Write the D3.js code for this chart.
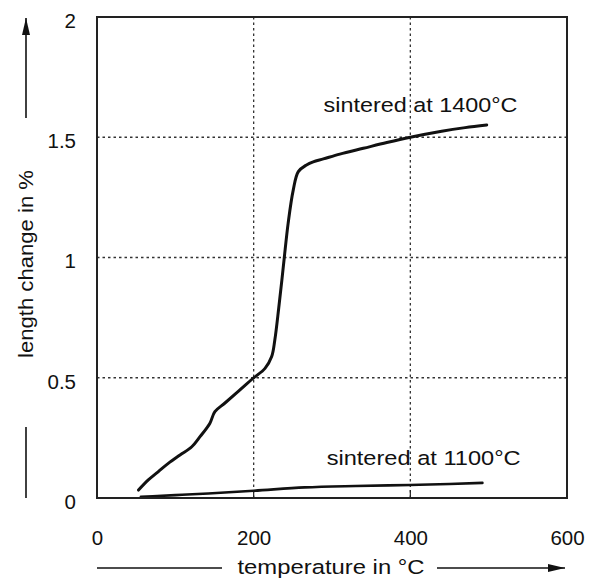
<!DOCTYPE html>
<html>
<head>
<meta charset="utf-8">
<script src="https://cdn.jsdelivr.net/npm/d3@7"></script>
<style>
  html, body { margin: 0; padding: 0; background: #fff; }
  svg { display: block; }
  text { font-family: "Liberation Sans", Arial, Helvetica, sans-serif; fill: #111; }
</style>
</head>
<body>
<svg id="chart" width="595" height="581"></svg>
<script>
// ---- data ----
const xTicks = [0, 200, 400, 600];
const yTicks = [0, 0.5, 1, 1.5, 2];
const xGrid = [200, 400];
const yGrid = [0.5, 1, 1.5];

const series1400Temp = [53, 65.5, 78, 91, 106, 121, 131.5, 144, 150.5, 163, 180, 199.5, 214.5, 223, 227, 232, 236, 239, 244, 250.5, 257, 267.5, 276, 289, 310, 340, 370, 400, 440, 470, 497.5];
const series1400Len  = [0.033, 0.075, 0.109, 0.144, 0.179, 0.213, 0.255, 0.31, 0.359, 0.394, 0.442, 0.498, 0.539, 0.588, 0.657, 0.79, 0.906, 0.997, 1.142, 1.28, 1.357, 1.385, 1.398, 1.41, 1.43, 1.454, 1.478, 1.50, 1.525, 1.54, 1.551];

const series1100Temp = [56, 100, 142, 200, 265, 330, 400, 450, 492];
const series1100Len  = [0.005, 0.012, 0.019, 0.030, 0.044, 0.05, 0.054, 0.058, 0.063];

const labels = [
  { text: "sintered at 1400\u00B0C", x: 413, y: 1.605 },
  { text: "sintered at 1100\u00B0C", x: 417, y: 0.137 }
];

// ---- layout ----
const svg = d3.select("#chart");
const L = 97, R = 567, T = 17, B = 498;
const x = d3.scaleLinear().domain([0, 600]).range([L, R]);
const y = d3.scaleLinear().domain([0, 2]).range([B, T]);
const fs = 20.5;

// grid
svg.append("g").selectAll("line").data(xGrid).join("line")
  .attr("x1", d => x(d)).attr("x2", d => x(d)).attr("y1", T).attr("y2", B)
  .attr("stroke", "#333").attr("stroke-width", 1.3).attr("stroke-dasharray", "2.5,3");
svg.append("g").selectAll("line").data(yGrid).join("line")
  .attr("y1", d => y(d)).attr("y2", d => y(d)).attr("x1", L).attr("x2", R)
  .attr("stroke", "#333").attr("stroke-width", 1.3).attr("stroke-dasharray", "2.5,3");

// small ticks on bottom at grid positions
svg.append("g").selectAll("line").data(xGrid).join("line")
  .attr("x1", d => x(d)).attr("x2", d => x(d)).attr("y1", B - 8).attr("y2", B)
  .attr("stroke", "#222").attr("stroke-width", 1.2);

// curves
const line = d3.line().x(d => x(d[0])).y(d => y(d[1])).curve(d3.curveMonotoneX);
svg.append("path")
  .datum(d3.zip(series1400Temp, series1400Len))
  .attr("d", d3.line().x(d => x(d[0])).y(d => y(d[1])).curve(d3.curveCatmullRom.alpha(0.5)))
  .attr("fill", "none").attr("stroke", "#111").attr("stroke-width", 3)
  .attr("stroke-linejoin", "round").attr("stroke-linecap", "round");
svg.append("path")
  .datum(d3.zip(series1100Temp, series1100Len))
  .attr("d", line)
  .attr("fill", "none").attr("stroke", "#111").attr("stroke-width", 2.6)
  .attr("stroke-linecap", "round");

// frame
svg.append("rect").attr("x", L).attr("y", T).attr("width", R - L).attr("height", B - T)
  .attr("fill", "none").attr("stroke", "#222").attr("stroke-width", 2);

// axes tick labels (axis generators with hidden domain/ticks)
const xAxis = svg.append("g").attr("transform", `translate(0,${B})`)
  .call(d3.axisBottom(x).tickValues(xTicks).tickSize(0).tickPadding(0).tickFormat(d3.format("d")));
xAxis.select(".domain").remove();
xAxis.selectAll("text").attr("font-size", fs).attr("dy", "1em").attr("y", 26)
  .attr("font-family", "Liberation Sans, Arial, sans-serif").attr("fill", "#111");

const yAxis = svg.append("g").attr("transform", `translate(${L},0)`)
  .call(d3.axisLeft(y).tickValues(yTicks).tickSize(0).tickPadding(0).tickFormat(d => d3.format("")(d)));
yAxis.select(".domain").remove();
yAxis.selectAll("text").attr("font-size", fs).attr("x", -21).attr("dy", "0.5em")
  .attr("font-family", "Liberation Sans, Arial, sans-serif").attr("fill", "#111");

// series labels
svg.append("g").selectAll("text").data(labels).join("text")
  .attr("x", d => x(d.x)).attr("y", d => y(d.y))
  .attr("text-anchor", "middle").attr("font-size", fs)
  .attr("textLength", 194).attr("lengthAdjust", "spacingAndGlyphs")
  .text(d => d.text);

// arrow marker
const defs = svg.append("defs");
defs.append("marker").attr("id", "arr").attr("viewBox", "0 0 10 10")
  .attr("preserveAspectRatio", "none")
  .attr("refX", 10).attr("refY", 5).attr("markerWidth", 17).attr("markerHeight", 8)
  .attr("markerUnits", "userSpaceOnUse").attr("orient", "auto")
  .append("path").attr("d", "M0,0 L10,5 L0,10 Z").attr("fill", "#111");

// x title and arrows
svg.append("text").attr("x", 331).attr("y", 574).attr("text-anchor", "middle")
  .attr("font-size", fs).attr("textLength", 187).attr("lengthAdjust", "spacingAndGlyphs")
  .text("temperature in \u00B0C");
svg.append("line").attr("x1", 97).attr("x2", 222).attr("y1", 568).attr("y2", 568)
  .attr("stroke", "#111").attr("stroke-width", 1.6);
svg.append("line").attr("x1", 437).attr("x2", 565).attr("y1", 568).attr("y2", 568)
  .attr("stroke", "#111").attr("stroke-width", 1.6).attr("marker-end", "url(#arr)");

// y title and arrows
svg.append("text").attr("transform", "translate(33,264) rotate(-90)")
  .attr("text-anchor", "middle").attr("font-size", fs)
  .attr("textLength", 188).attr("lengthAdjust", "spacingAndGlyphs")
  .text("length change in %");
svg.append("line").attr("x1", 26).attr("x2", 26).attr("y1", 498).attr("y2", 427)
  .attr("stroke", "#111").attr("stroke-width", 1.6);
svg.append("line").attr("x1", 26).attr("x2", 26).attr("y1", 118).attr("y2", 18)
  .attr("stroke", "#111").attr("stroke-width", 1.6).attr("marker-end", "url(#arr)");
</script>
</body>
</html>
